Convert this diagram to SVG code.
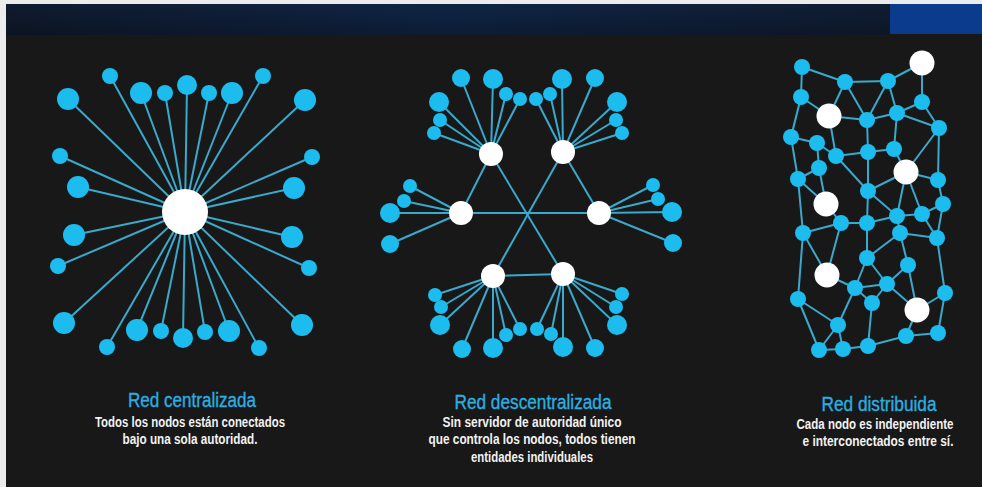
<svg xmlns="http://www.w3.org/2000/svg" width="982" height="487" viewBox="0 0 982 487">
<defs>
<linearGradient id="bar" x1="0" y1="0" x2="1" y2="0">
<stop offset="0" stop-color="#0f1b2e"/>
<stop offset="0.5" stop-color="#0f2546"/>
<stop offset="1" stop-color="#101d32"/>
</linearGradient>
<linearGradient id="barv" x1="0" y1="0" x2="0" y2="1">
<stop offset="0" stop-color="#000" stop-opacity="0"/>
<stop offset="1" stop-color="#000" stop-opacity="0.25"/>
</linearGradient>
</defs>
<style>
.ln{stroke:#3aa9cc;stroke-width:2;fill:none}
.c{fill:#1dbcef}
.w{fill:#ffffff}
.t{font-family:"Liberation Sans",Arial,sans-serif;font-size:20px;fill:#2aafe0;stroke:#2aafe0;stroke-width:0.35;text-anchor:middle}
.s{font-family:"Liberation Sans",Arial,sans-serif;font-size:14.5px;font-weight:bold;fill:#f2f2f2;text-anchor:middle}
</style>
<rect x="0" y="0" width="982" height="487" fill="#ececec"/>
<rect x="6" y="4" width="976" height="483" fill="#181818"/>
<rect x="6" y="4" width="884" height="31" fill="url(#bar)"/>
<rect x="6" y="4" width="884" height="31" fill="url(#barv)"/>
<rect x="890" y="4" width="92" height="30" fill="#0b3b8c"/>

<g id="connectors">
<g id="c-edges">
<line class="ln" x1="185" y1="212" x2="110" y2="76"/>
<line class="ln" x1="185" y1="212" x2="68" y2="99"/>
<line class="ln" x1="185" y1="212" x2="141" y2="93"/>
<line class="ln" x1="185" y1="212" x2="165" y2="93"/>
<line class="ln" x1="185" y1="212" x2="187" y2="85"/>
<line class="ln" x1="185" y1="212" x2="209" y2="93"/>
<line class="ln" x1="185" y1="212" x2="232" y2="93"/>
<line class="ln" x1="185" y1="212" x2="263" y2="76"/>
<line class="ln" x1="185" y1="212" x2="305" y2="100"/>
<line class="ln" x1="185" y1="212" x2="60" y2="156"/>
<line class="ln" x1="185" y1="212" x2="78" y2="187"/>
<line class="ln" x1="185" y1="212" x2="74" y2="235"/>
<line class="ln" x1="185" y1="212" x2="58" y2="266"/>
<line class="ln" x1="185" y1="212" x2="64" y2="323"/>
<line class="ln" x1="185" y1="212" x2="107" y2="347"/>
<line class="ln" x1="185" y1="212" x2="137" y2="330"/>
<line class="ln" x1="185" y1="212" x2="161" y2="331"/>
<line class="ln" x1="185" y1="212" x2="183" y2="338"/>
<line class="ln" x1="185" y1="212" x2="205" y2="332"/>
<line class="ln" x1="185" y1="212" x2="229" y2="331"/>
<line class="ln" x1="185" y1="212" x2="259" y2="348"/>
<line class="ln" x1="185" y1="212" x2="302" y2="325"/>
<line class="ln" x1="185" y1="212" x2="312" y2="157"/>
<line class="ln" x1="185" y1="212" x2="294" y2="188"/>
<line class="ln" x1="185" y1="212" x2="292" y2="237"/>
<line class="ln" x1="185" y1="212" x2="309" y2="268"/>
</g>
<g id="d-edges">
<line class="ln" x1="461" y1="213" x2="599" y2="213"/>
<line class="ln" x1="491" y1="154" x2="563" y2="274"/>
<line class="ln" x1="563" y1="152" x2="493" y2="276"/>
<line class="ln" x1="491" y1="154" x2="461" y2="213"/>
<line class="ln" x1="563" y1="152" x2="599" y2="213"/>
<line class="ln" x1="493" y1="276" x2="563" y2="274"/>
<line class="ln" x1="491" y1="154" x2="461" y2="78"/>
<line class="ln" x1="491" y1="154" x2="493" y2="79"/>
<line class="ln" x1="491" y1="154" x2="506" y2="94"/>
<line class="ln" x1="491" y1="154" x2="520" y2="99"/>
<line class="ln" x1="491" y1="154" x2="439" y2="102"/>
<line class="ln" x1="491" y1="154" x2="440" y2="120"/>
<line class="ln" x1="491" y1="154" x2="434" y2="133"/>
<line class="ln" x1="563" y1="152" x2="536" y2="99"/>
<line class="ln" x1="563" y1="152" x2="550" y2="94"/>
<line class="ln" x1="563" y1="152" x2="562" y2="79"/>
<line class="ln" x1="563" y1="152" x2="595" y2="78"/>
<line class="ln" x1="563" y1="152" x2="617" y2="102"/>
<line class="ln" x1="563" y1="152" x2="616" y2="120"/>
<line class="ln" x1="563" y1="152" x2="622" y2="133"/>
<line class="ln" x1="461" y1="213" x2="410" y2="186"/>
<line class="ln" x1="461" y1="213" x2="404" y2="201"/>
<line class="ln" x1="461" y1="213" x2="390" y2="213"/>
<line class="ln" x1="461" y1="213" x2="390" y2="244"/>
<line class="ln" x1="599" y1="213" x2="653" y2="185"/>
<line class="ln" x1="599" y1="213" x2="658" y2="199"/>
<line class="ln" x1="599" y1="213" x2="672" y2="212"/>
<line class="ln" x1="599" y1="213" x2="673" y2="243"/>
<line class="ln" x1="493" y1="276" x2="435" y2="295"/>
<line class="ln" x1="493" y1="276" x2="441" y2="307"/>
<line class="ln" x1="493" y1="276" x2="440" y2="325"/>
<line class="ln" x1="493" y1="276" x2="462" y2="349"/>
<line class="ln" x1="493" y1="276" x2="493" y2="348"/>
<line class="ln" x1="493" y1="276" x2="506" y2="335"/>
<line class="ln" x1="493" y1="276" x2="520" y2="329"/>
<line class="ln" x1="563" y1="274" x2="537" y2="329"/>
<line class="ln" x1="563" y1="274" x2="551" y2="334"/>
<line class="ln" x1="563" y1="274" x2="563" y2="347"/>
<line class="ln" x1="563" y1="274" x2="595" y2="348"/>
<line class="ln" x1="563" y1="274" x2="617" y2="325"/>
<line class="ln" x1="563" y1="274" x2="616" y2="307"/>
<line class="ln" x1="563" y1="274" x2="622" y2="294"/>
</g>
<g id="r-edges">
<line class="ln" x1="802" y1="67" x2="845" y2="82"/>
<line class="ln" x1="802" y1="67" x2="801" y2="97"/>
<line class="ln" x1="845" y1="82" x2="888" y2="81"/>
<line class="ln" x1="888" y1="81" x2="922" y2="63"/>
<line class="ln" x1="922" y1="63" x2="922" y2="102"/>
<line class="ln" x1="845" y1="82" x2="829" y2="116"/>
<line class="ln" x1="845" y1="82" x2="867" y2="120"/>
<line class="ln" x1="888" y1="81" x2="867" y2="120"/>
<line class="ln" x1="888" y1="81" x2="897" y2="113"/>
<line class="ln" x1="801" y1="97" x2="829" y2="116"/>
<line class="ln" x1="801" y1="97" x2="791" y2="137"/>
<line class="ln" x1="829" y1="116" x2="867" y2="120"/>
<line class="ln" x1="829" y1="116" x2="836" y2="156"/>
<line class="ln" x1="867" y1="120" x2="897" y2="113"/>
<line class="ln" x1="867" y1="120" x2="868" y2="152"/>
<line class="ln" x1="897" y1="113" x2="922" y2="102"/>
<line class="ln" x1="897" y1="113" x2="894" y2="149"/>
<line class="ln" x1="922" y1="102" x2="939" y2="128"/>
<line class="ln" x1="897" y1="113" x2="939" y2="128"/>
<line class="ln" x1="939" y1="128" x2="906" y2="172"/>
<line class="ln" x1="939" y1="128" x2="938" y2="180"/>
<line class="ln" x1="791" y1="137" x2="817" y2="143"/>
<line class="ln" x1="791" y1="137" x2="798" y2="179"/>
<line class="ln" x1="817" y1="143" x2="836" y2="156"/>
<line class="ln" x1="817" y1="143" x2="819" y2="168"/>
<line class="ln" x1="836" y1="156" x2="868" y2="152"/>
<line class="ln" x1="836" y1="156" x2="868" y2="191"/>
<line class="ln" x1="868" y1="152" x2="894" y2="149"/>
<line class="ln" x1="868" y1="152" x2="868" y2="191"/>
<line class="ln" x1="894" y1="149" x2="906" y2="172"/>
<line class="ln" x1="906" y1="172" x2="938" y2="180"/>
<line class="ln" x1="906" y1="172" x2="868" y2="191"/>
<line class="ln" x1="906" y1="172" x2="897" y2="216"/>
<line class="ln" x1="906" y1="172" x2="922" y2="214"/>
<line class="ln" x1="819" y1="168" x2="798" y2="179"/>
<line class="ln" x1="819" y1="168" x2="826" y2="204"/>
<line class="ln" x1="798" y1="179" x2="826" y2="204"/>
<line class="ln" x1="798" y1="179" x2="803" y2="233"/>
<line class="ln" x1="938" y1="180" x2="943" y2="204"/>
<line class="ln" x1="868" y1="191" x2="867" y2="223"/>
<line class="ln" x1="868" y1="191" x2="897" y2="216"/>
<line class="ln" x1="826" y1="204" x2="841" y2="223"/>
<line class="ln" x1="943" y1="204" x2="922" y2="214"/>
<line class="ln" x1="943" y1="204" x2="937" y2="238"/>
<line class="ln" x1="897" y1="216" x2="922" y2="214"/>
<line class="ln" x1="897" y1="216" x2="867" y2="223"/>
<line class="ln" x1="897" y1="216" x2="900" y2="233"/>
<line class="ln" x1="922" y1="214" x2="937" y2="238"/>
<line class="ln" x1="841" y1="223" x2="867" y2="223"/>
<line class="ln" x1="841" y1="223" x2="803" y2="233"/>
<line class="ln" x1="841" y1="223" x2="827" y2="275"/>
<line class="ln" x1="867" y1="223" x2="867" y2="258"/>
<line class="ln" x1="803" y1="233" x2="827" y2="275"/>
<line class="ln" x1="803" y1="233" x2="798" y2="299"/>
<line class="ln" x1="900" y1="233" x2="937" y2="238"/>
<line class="ln" x1="900" y1="233" x2="908" y2="265"/>
<line class="ln" x1="900" y1="233" x2="867" y2="258"/>
<line class="ln" x1="937" y1="238" x2="945" y2="293"/>
<line class="ln" x1="867" y1="258" x2="855" y2="288"/>
<line class="ln" x1="867" y1="258" x2="887" y2="284"/>
<line class="ln" x1="908" y1="265" x2="887" y2="284"/>
<line class="ln" x1="908" y1="265" x2="917" y2="310"/>
<line class="ln" x1="827" y1="275" x2="855" y2="288"/>
<line class="ln" x1="855" y1="288" x2="887" y2="284"/>
<line class="ln" x1="855" y1="288" x2="872" y2="303"/>
<line class="ln" x1="855" y1="288" x2="838" y2="325"/>
<line class="ln" x1="887" y1="284" x2="872" y2="303"/>
<line class="ln" x1="887" y1="284" x2="917" y2="310"/>
<line class="ln" x1="798" y1="299" x2="838" y2="325"/>
<line class="ln" x1="798" y1="299" x2="819" y2="350"/>
<line class="ln" x1="872" y1="303" x2="868" y2="346"/>
<line class="ln" x1="945" y1="293" x2="917" y2="310"/>
<line class="ln" x1="945" y1="293" x2="938" y2="333"/>
<line class="ln" x1="917" y1="310" x2="906" y2="336"/>
<line class="ln" x1="906" y1="336" x2="938" y2="333"/>
<line class="ln" x1="906" y1="336" x2="868" y2="346"/>
<line class="ln" x1="838" y1="325" x2="819" y2="350"/>
<line class="ln" x1="838" y1="325" x2="843" y2="349"/>
<line class="ln" x1="819" y1="350" x2="843" y2="349"/>
<line class="ln" x1="843" y1="349" x2="868" y2="346"/>
</g>
</g>

<g id="central-hub"><circle class="w" cx="185" cy="212" r="23"/></g>
<g id="c1"><circle class="c" cx="110" cy="76" r="8"/></g>
<g id="c2"><circle class="c" cx="68" cy="99" r="11"/></g>
<g id="c3"><circle class="c" cx="141" cy="93" r="11"/></g>
<g id="c4"><circle class="c" cx="165" cy="93" r="8"/></g>
<g id="c5"><circle class="c" cx="187" cy="85" r="10"/></g>
<g id="c6"><circle class="c" cx="209" cy="93" r="8"/></g>
<g id="c7"><circle class="c" cx="232" cy="93" r="11"/></g>
<g id="c8"><circle class="c" cx="263" cy="76" r="8"/></g>
<g id="c9"><circle class="c" cx="305" cy="100" r="11"/></g>
<g id="c10"><circle class="c" cx="60" cy="156" r="8"/></g>
<g id="c11"><circle class="c" cx="78" cy="187" r="11"/></g>
<g id="c12"><circle class="c" cx="74" cy="235" r="11"/></g>
<g id="c13"><circle class="c" cx="58" cy="266" r="8"/></g>
<g id="c14"><circle class="c" cx="64" cy="323" r="11"/></g>
<g id="c15"><circle class="c" cx="107" cy="347" r="8"/></g>
<g id="c16"><circle class="c" cx="137" cy="330" r="11"/></g>
<g id="c17"><circle class="c" cx="161" cy="331" r="8"/></g>
<g id="c18"><circle class="c" cx="183" cy="338" r="10"/></g>
<g id="c19"><circle class="c" cx="205" cy="332" r="8"/></g>
<g id="c20"><circle class="c" cx="229" cy="331" r="11"/></g>
<g id="c21"><circle class="c" cx="259" cy="348" r="8"/></g>
<g id="c22"><circle class="c" cx="302" cy="325" r="11"/></g>
<g id="c23"><circle class="c" cx="312" cy="157" r="8"/></g>
<g id="c24"><circle class="c" cx="294" cy="188" r="11"/></g>
<g id="c25"><circle class="c" cx="292" cy="237" r="11"/></g>
<g id="c26"><circle class="c" cx="309" cy="268" r="8"/></g>

<g id="d-leaves">
<circle class="c" cx="461" cy="78" r="9"/>
<circle class="c" cx="493" cy="79" r="10"/>
<circle class="c" cx="506" cy="94" r="7"/>
<circle class="c" cx="520" cy="99" r="7"/>
<circle class="c" cx="439" cy="102" r="10"/>
<circle class="c" cx="440" cy="120" r="7"/>
<circle class="c" cx="434" cy="133" r="7"/>
<circle class="c" cx="536" cy="99" r="7"/>
<circle class="c" cx="550" cy="94" r="7"/>
<circle class="c" cx="562" cy="79" r="10"/>
<circle class="c" cx="595" cy="78" r="9"/>
<circle class="c" cx="617" cy="102" r="10"/>
<circle class="c" cx="616" cy="120" r="7"/>
<circle class="c" cx="622" cy="133" r="7"/>
<circle class="c" cx="410" cy="186" r="7"/>
<circle class="c" cx="404" cy="201" r="7"/>
<circle class="c" cx="390" cy="213" r="10"/>
<circle class="c" cx="390" cy="244" r="9"/>
<circle class="c" cx="653" cy="185" r="7"/>
<circle class="c" cx="658" cy="199" r="7"/>
<circle class="c" cx="672" cy="212" r="10"/>
<circle class="c" cx="673" cy="243" r="9"/>
<circle class="c" cx="435" cy="295" r="7"/>
<circle class="c" cx="441" cy="307" r="7"/>
<circle class="c" cx="440" cy="325" r="10"/>
<circle class="c" cx="462" cy="349" r="9"/>
<circle class="c" cx="493" cy="348" r="10"/>
<circle class="c" cx="506" cy="335" r="7"/>
<circle class="c" cx="520" cy="329" r="7"/>
<circle class="c" cx="537" cy="329" r="7"/>
<circle class="c" cx="551" cy="334" r="7"/>
<circle class="c" cx="563" cy="347" r="10"/>
<circle class="c" cx="595" cy="348" r="9"/>
<circle class="c" cx="617" cy="325" r="10"/>
<circle class="c" cx="616" cy="307" r="7"/>
<circle class="c" cx="622" cy="294" r="7"/>
</g>
<g id="hubA"><circle class="w" cx="491" cy="154" r="12"/></g>
<g id="hubB"><circle class="w" cx="563" cy="152" r="12"/></g>
<g id="hubC"><circle class="w" cx="461" cy="213" r="12"/></g>
<g id="hubD"><circle class="w" cx="599" cy="213" r="12"/></g>
<g id="hubE"><circle class="w" cx="493" cy="276" r="12"/></g>
<g id="hubF"><circle class="w" cx="563" cy="274" r="12"/></g>

<g id="r-nodes">
<circle class="c" cx="802" cy="67" r="8"/>
<circle class="c" cx="845" cy="82" r="8"/>
<circle class="c" cx="888" cy="81" r="8"/>
<circle class="w" cx="922" cy="63" r="12.5"/>
<circle class="c" cx="801" cy="97" r="8"/>
<circle class="w" cx="829" cy="116" r="12.5"/>
<circle class="c" cx="867" cy="120" r="8"/>
<circle class="c" cx="897" cy="113" r="8"/>
<circle class="c" cx="922" cy="102" r="8"/>
<circle class="c" cx="939" cy="128" r="8"/>
<circle class="c" cx="791" cy="137" r="8"/>
<circle class="c" cx="817" cy="143" r="8"/>
<circle class="c" cx="836" cy="156" r="8"/>
<circle class="c" cx="868" cy="152" r="8"/>
<circle class="c" cx="894" cy="149" r="8"/>
<circle class="w" cx="906" cy="172" r="12.5"/>
<circle class="c" cx="819" cy="168" r="8"/>
<circle class="c" cx="798" cy="179" r="8"/>
<circle class="c" cx="938" cy="180" r="8"/>
<circle class="c" cx="868" cy="191" r="8"/>
<circle class="w" cx="826" cy="204" r="12.5"/>
<circle class="c" cx="943" cy="204" r="8"/>
<circle class="c" cx="897" cy="216" r="8"/>
<circle class="c" cx="922" cy="214" r="8"/>
<circle class="c" cx="841" cy="223" r="8"/>
<circle class="c" cx="867" cy="223" r="8"/>
<circle class="c" cx="803" cy="233" r="8"/>
<circle class="c" cx="900" cy="233" r="8"/>
<circle class="c" cx="937" cy="238" r="8"/>
<circle class="c" cx="867" cy="258" r="8"/>
<circle class="c" cx="908" cy="265" r="8"/>
<circle class="w" cx="827" cy="275" r="12.5"/>
<circle class="c" cx="855" cy="288" r="8"/>
<circle class="c" cx="887" cy="284" r="8"/>
<circle class="c" cx="798" cy="299" r="8"/>
<circle class="c" cx="872" cy="303" r="8"/>
<circle class="c" cx="945" cy="293" r="8"/>
<circle class="w" cx="917" cy="310" r="12.5"/>
<circle class="c" cx="838" cy="325" r="8"/>
<circle class="c" cx="906" cy="336" r="8"/>
<circle class="c" cx="938" cy="333" r="8"/>
<circle class="c" cx="819" cy="350" r="8"/>
<circle class="c" cx="843" cy="349" r="8"/>
<circle class="c" cx="868" cy="346" r="8"/>
</g>

<g id="labels">
<text class="t" x="192" y="407" textLength="128" lengthAdjust="spacingAndGlyphs">Red centralizada</text>
<text class="s" x="190" y="427" textLength="190" lengthAdjust="spacingAndGlyphs">Todos los nodos están conectados</text>
<text class="s" x="190" y="444" textLength="135" lengthAdjust="spacingAndGlyphs">bajo una sola autoridad.</text>
<text class="t" x="533" y="409" textLength="157" lengthAdjust="spacingAndGlyphs">Red descentralizada</text>
<text class="s" x="532" y="427" textLength="179" lengthAdjust="spacingAndGlyphs">Sin servidor de autoridad único</text>
<text class="s" x="532" y="444" textLength="207" lengthAdjust="spacingAndGlyphs">que controla los nodos, todos tienen</text>
<text class="s" x="532" y="462" textLength="122" lengthAdjust="spacingAndGlyphs">entidades individuales</text>
<text class="t" x="879" y="411" textLength="115" lengthAdjust="spacingAndGlyphs">Red distribuida</text>
<text class="s" x="875" y="429" textLength="157" lengthAdjust="spacingAndGlyphs">Cada nodo es independiente</text>
<text class="s" x="878" y="446" textLength="151" lengthAdjust="spacingAndGlyphs">e interconectados entre sí.</text>
</g>
</svg>
